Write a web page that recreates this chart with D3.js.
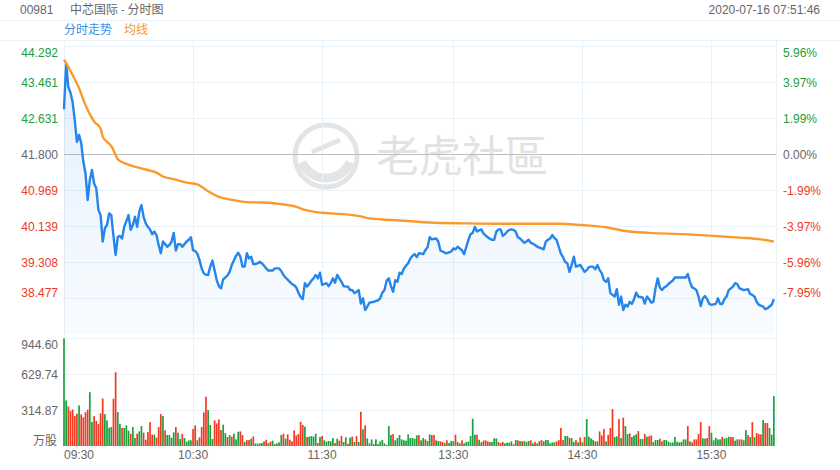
<!DOCTYPE html>
<html><head><meta charset="utf-8">
<script src="https://cdn.jsdelivr.net/npm/d3@7"></script>
<style>
body{margin:0;background:#fff;}
svg{display:block;font-family:"Liberation Sans",Arial,"Noto Sans CJK SC",sans-serif;}
</style></head>
<body><svg id="c" width="840" height="470"></svg>
<script>
// ---- data ----
const stockCode = "00981";
const stockTitle = "中芯国际 - 分时图";
const stamp = "2020-07-16 07:51:46";
const legendNames = ["分时走势", "均线"];
const preClose = 41.800;
const priceTicks = ["44.292","43.461","42.631","41.800","40.969","40.139","39.308","38.477"];
const pctTicks = ["5.96%","3.97%","1.99%","0.00%","-1.99%","-3.97%","-5.96%","-7.95%"];
const volTicks = ["944.60","629.74","314.87"];
const volUnit = "万股";
const timeLabels = ["09:30","10:30","11:30","13:30","14:30","15:30"];
const timeSlots = [0,60,120,181,241,301];
const gridSlots = [0,60,120,181,241,301,331];
const totalSlots = 331;

// price per minute slot
const price = [
42.83,43.89,43.35,43.22,43.00,42.58,42.08,42.24,42.05,41.62,
41.35,40.74,41.20,41.43,41.12,41.01,40.51,40.39,39.78,40.09,
40.16,40.43,40.39,39.90,39.47,39.89,39.91,39.85,40.12,40.25,
40.39,40.05,40.16,40.35,40.12,40.47,40.62,40.35,40.20,40.12,
40.06,39.95,40.01,39.93,39.70,39.51,39.78,39.72,39.66,39.70,
39.78,39.98,39.57,39.72,39.72,39.66,39.72,39.78,39.82,39.88,
39.58,39.56,39.50,39.35,39.16,39.05,39.01,39.01,39.20,39.34,
39.12,38.89,38.75,38.70,38.91,38.95,39.00,39.08,39.24,39.35,
39.45,39.52,39.43,39.20,39.20,39.51,39.39,39.43,39.26,39.26,
39.28,39.31,39.28,39.22,39.16,39.11,39.11,39.11,39.16,39.16,
39.16,39.10,39.01,38.95,38.90,38.85,38.80,38.77,38.72,38.60,
38.50,38.45,38.82,38.74,38.80,38.88,38.93,39.01,38.93,39.06,
38.78,38.80,38.82,38.75,38.82,38.93,38.83,39.01,38.93,38.85,
38.75,38.74,38.74,38.66,38.66,38.59,38.62,38.66,38.35,38.47,
38.20,38.28,38.37,38.38,38.39,38.41,38.42,38.47,38.60,38.66,
38.88,38.93,38.75,38.62,38.89,38.85,39.06,39.03,39.16,39.22,
39.28,39.39,39.45,39.49,39.42,39.51,39.50,39.49,39.58,39.65,
39.88,39.83,39.84,39.85,39.78,39.57,39.55,39.52,39.51,39.53,
39.55,39.62,39.60,39.66,39.62,39.58,39.49,39.65,39.82,39.95,
39.98,40.12,40.01,40.04,40.06,39.97,39.92,39.88,39.84,39.82,
39.82,40.01,40.06,40.06,39.91,39.95,40.01,40.05,40.06,40.05,
40.01,39.88,39.85,39.80,39.75,39.78,39.82,39.75,39.73,39.70,
39.66,39.64,39.62,39.60,39.78,39.82,39.85,39.93,39.86,39.82,
39.66,39.50,39.42,39.31,39.28,39.08,39.24,39.43,39.20,39.22,
39.24,39.16,39.08,39.12,39.19,39.20,39.20,39.14,39.24,39.12,
39.05,38.89,38.85,38.93,38.59,38.55,38.51,38.68,38.32,38.51,
38.20,38.32,38.28,38.39,38.34,38.45,38.60,38.51,38.50,38.49,
38.35,38.51,38.45,38.37,38.39,38.70,38.93,38.72,38.66,38.72,
38.75,38.80,38.84,38.88,38.95,38.95,38.95,38.95,38.95,38.95,
39.03,38.85,38.72,38.70,38.66,38.51,38.29,38.47,38.52,38.45,
38.34,38.32,38.33,38.34,38.47,38.34,38.34,38.45,38.51,38.66,
38.70,38.74,38.82,38.80,38.70,38.68,38.66,38.67,38.68,38.57,
38.55,38.51,38.39,38.32,38.30,38.28,38.22,38.24,38.28,38.32,
38.45];

// average line (slot, value)
const avgSlot = [0,2,4,7,9,12,14,17,18,20,22,24,25,29,34,39,43,46,51,57,62,65,68,72,78,85,92,100,108,112,117,124,134,139,141,148,158,170,186,201,218,229,241,252,260,272,288,302,314,324,330];
const avgVal  = [43.98,43.81,43.62,43.32,43.05,42.72,42.55,42.39,42.20,42.08,41.98,41.78,41.68,41.57,41.49,41.43,41.37,41.28,41.22,41.14,41.10,41.01,40.91,40.81,40.74,40.69,40.68,40.65,40.58,40.51,40.46,40.43,40.39,40.35,40.32,40.29,40.26,40.22,40.20,40.19,40.19,40.19,40.16,40.11,40.03,39.98,39.95,39.91,39.87,39.83,39.78];

// volume per minute slot (万股)
const volume = [
944,400,347,306,321,262,283,356,277,251,
297,318,472,210,262,219,193,286,417,280,
225,160,166,414,647,297,193,158,158,181,
134,108,166,70,108,128,175,117,55,122,
210,99,99,73,166,280,262,137,96,96,
73,120,166,117,61,105,70,38,50,50,
149,181,50,76,166,295,432,315,184,61,
225,198,233,140,187,114,79,96,82,108,
58,125,128,96,35,52,52,64,85,23,
20,23,26,41,55,26,38,47,17,23,
32,96,108,64,102,55,41,137,93,105,
213,184,169,79,82,88,82,108,26,79,
88,50,38,44,41,70,26,64,47,88,
35,76,20,73,82,35,88,35,300,146,
181,67,23,58,17,58,17,41,52,23,
10,175,96,105,50,70,96,58,50,47,
102,70,70,64,93,96,50,70,58,44,
102,96,96,50,44,41,35,26,50,26,
44,41,99,35,23,50,23,35,38,88,
239,99,99,55,32,47,50,41,35,35,
67,67,35,26,35,23,29,29,41,15,
52,50,44,41,44,35,44,50,23,35,
23,44,52,41,52,52,23,32,32,41,
52,158,52,88,88,73,70,35,52,32,
76,32,79,236,82,67,52,41,41,128,
93,149,41,99,158,324,79,85,236,70,
248,175,105,111,79,93,102,131,61,61,
105,82,85,93,35,52,52,64,41,52,
52,38,29,32,79,38,32,35,58,58,
175,41,32,58,58,105,210,67,64,70,
175,117,50,73,58,58,79,64,70,82,
79,79,47,58,58,58,50,140,96,79,
210,76,114,105,102,228,201,201,158,99,
437];
// bar colour per slot: r = red, g = green
const volDir = [
"ggrrrrrgrr","rrggrrrrrg","gggrrggrgg","grggrggrrr","rrgrrrgrgg",
"ggrggrgggg","rrgrrrrggg","rrrrggrgrg","ggrrgrrgrg","gggrrgrggg",
"ggrgrrrrrr","rrgrggggrg","rgggggrgrr","ggrgrgrgrg","rggggggggg",
"gggrgggggg","gggggrggrg","grrggrrgrg","ggrgrrgggg","ggrggrrrgg",
"ggrrrggggr","grgrgggrgr","grrggggggr","rrrggrggrg","rgrggggrgr",
"rrgrrrggrg","rggrgggrgg","rgrrgggrrg","gggggggggg","rgrrrrrggr",
"rgggggrggg","rrggrrggrg","rgrrrgrrgg","g"].join("").split("");

// ---- drawing ----
const svg = d3.select("#c");
const C = {grid:"#e9f2f8", text:"#666", up:"#17a03b", down:"#ec3b26", blue:"#2585ea", orange:"#fa9a2e"};
svg.append("rect").attr("width",840).attr("height",470).attr("fill","#fff");

const x = d3.scaleLinear().domain([0,totalSlots]).range([64,776]);
const pTop = +priceTicks[0], pBot = +priceTicks[priceTicks.length-1];
const y = d3.scaleLinear().domain([pBot,pTop]).range([298,46]);
const yBottom = 334;
const vy = d3.scaleLinear().domain([0,+volTicks[0]]).range([446,338.3]);

// header
svg.append("text").attr("x",20).attr("y",14).attr("font-size",12).attr("fill",C.text).text(stockCode);
svg.append("text").attr("x",70).attr("y",14).attr("font-size",12).attr("fill",C.text)
  .attr("font-family","'Noto Sans CJK SC',sans-serif").text(stockTitle);
svg.append("text").attr("x",820).attr("y",14).attr("font-size",12).attr("fill",C.text).attr("text-anchor","end").text(stamp);
svg.append("line").attr("x1",0).attr("x2",840).attr("y1",20.5).attr("y2",20.5).attr("stroke",C.grid);
svg.append("line").attr("x1",0).attr("x2",840).attr("y1",40.5).attr("y2",40.5).attr("stroke",C.grid);
svg.append("text").attr("x",64).attr("y",34).attr("font-size",12).attr("fill","#3a8ee6")
  .attr("font-family","'Noto Sans CJK SC',sans-serif").text(legendNames[0]);
svg.append("text").attr("x",124).attr("y",34).attr("font-size",12).attr("fill","#f7962a")
  .attr("font-family","'Noto Sans CJK SC',sans-serif").text(legendNames[1]);

// watermark
const wm = svg.append("g").attr("opacity",1);
wm.append("circle").attr("cx",326).attr("cy",156).attr("r",31).attr("fill","none").attr("stroke","#e4e4e4").attr("stroke-width",5);
wm.append("path").attr("d","M302,162 A26,26 0 0 0 350,162").attr("fill","none").attr("stroke","#e4e4e4").attr("stroke-width",9);
wm.append("path").attr("d","M312,152 L340,140").attr("stroke","#e4e4e4").attr("stroke-width",5);
wm.append("text").attr("x",376).attr("y",172).attr("font-size",43).attr("fill","#e2e2e2")
  .attr("font-family","'Noto Sans CJK TC',sans-serif").text("老虎社區");

// vertical grid
gridSlots.forEach(s=>{
  const xx = Math.round(x(s))+0.5;
  svg.append("line").attr("x1",xx).attr("x2",xx).attr("y1",40).attr("y2",446).attr("stroke",C.grid);
});
// horizontal price grid
priceTicks.forEach((t,i)=>{
  const yy = Math.round(y(+t))+0.5;
  svg.append("line").attr("x1",64).attr("x2",776).attr("y1",yy).attr("y2",yy)
    .attr("stroke", +t===preClose ? "#bdbdbd" : C.grid);
  const dy = i===0 ? 10 : (i===priceTicks.length-1 ? -1.5 : 4.3);
  const col = +t>preClose ? C.up : (+t<preClose ? C.down : C.text);
  svg.append("text").attr("x",58).attr("y",yy+dy).attr("text-anchor","end").attr("font-size",12).attr("fill",col).text(t);
  svg.append("text").attr("x",783).attr("y",yy+dy).attr("font-size",12).attr("fill",col).text(pctTicks[i]);
});
// volume grid
volTicks.forEach((t,i)=>{
  const yy = Math.round(vy(+t))+0.5;
  svg.append("line").attr("x1",64).attr("x2",776).attr("y1",yy).attr("y2",yy).attr("stroke",C.grid);
  svg.append("text").attr("x",58).attr("y",yy+(i===0?10:4.3)).attr("text-anchor","end").attr("font-size",12).attr("fill",C.text).text(t);
});
svg.append("text").attr("x",57).attr("y",vy(0)-1.5).attr("text-anchor","end").attr("font-size",12).attr("fill",C.text)
  .attr("font-family","'Noto Sans CJK SC',sans-serif").text(volUnit);

// time labels
timeLabels.forEach((t,i)=>{
  svg.append("text").attr("x",x(timeSlots[i])).attr("y",459).attr("font-size",12).attr("fill",C.text)
    .attr("text-anchor", i===0 ? "start" : "middle").text(t);
});

// area gradient
const defs = svg.append("defs");
const g = defs.append("linearGradient").attr("id","ag").attr("gradientUnits","userSpaceOnUse")
  .attr("x1",0).attr("x2",0).attr("y1",46).attr("y2",yBottom);
g.append("stop").attr("offset","0").attr("stop-color","#2585ea").attr("stop-opacity",0.13);
g.append("stop").attr("offset","1").attr("stop-color","#2585ea").attr("stop-opacity",0.03);

svg.append("path").datum(price)
  .attr("d", d3.area().x((d,i)=>x(i)).y0(yBottom).y1(d=>y(d)))
  .attr("fill","url(#ag)");

// volume bars
svg.append("g").selectAll("rect").data(volume).join("rect")
  .attr("x",(d,i)=>x(i)-0.85).attr("width",1.7)
  .attr("y",d=>vy(d)).attr("height",d=>vy(0)-vy(d))
  .attr("fill",(d,i)=>volDir[i]==="r" ? "#f23a22" : "#1c9f3c");

// price line
svg.append("path").datum(price)
  .attr("d", d3.line().x((d,i)=>x(i)).y(d=>y(d)))
  .attr("fill","none").attr("stroke",C.blue).attr("stroke-width",2.4).attr("stroke-linejoin","round");

// average line
svg.append("path").datum(avgSlot.map((s,i)=>[s,avgVal[i]]))
  .attr("d", d3.line().x(d=>x(d[0])).y(d=>y(d[1])).curve(d3.curveMonotoneX))
  .attr("fill","none").attr("stroke",C.orange).attr("stroke-width",2.4);
</script></body></html>
